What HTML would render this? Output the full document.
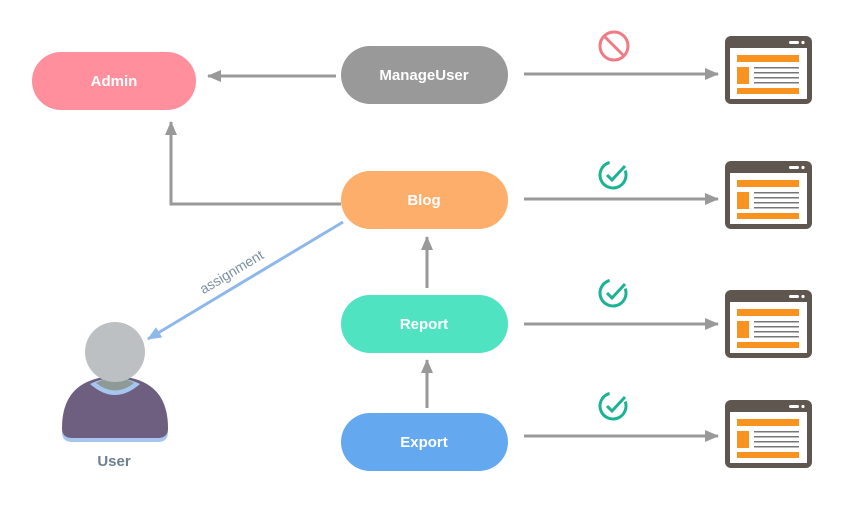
<!DOCTYPE html><html><head><style>body{margin:0;background:#fff}text{font-family:"Liberation Sans",sans-serif}</style></head><body>
<svg width="850" height="510" viewBox="0 0 850 510" xmlns="http://www.w3.org/2000/svg">
<defs>
<marker id="g" markerWidth="10" markerHeight="10" refX="9" refY="5" orient="auto" markerUnits="userSpaceOnUse" viewBox="0 0 10 10"><path d="M0,0L10,5L0,10z" fill="#999"/></marker>
<marker id="gb" markerWidth="14" markerHeight="12" refX="13" refY="6" orient="auto" markerUnits="userSpaceOnUse"><path d="M0,0L14,6L0,12z" fill="#999"/></marker>
<marker id="b" markerWidth="14" markerHeight="12" refX="13" refY="6" orient="auto" markerUnits="userSpaceOnUse"><path d="M0,0L14,6L0,12z" fill="#8fb8ea"/></marker>
<g id="ic"><rect x="0" y="0" width="87" height="68" rx="6" fill="#5f5650"/><rect x="5" y="12" width="77" height="51" fill="#fff"/><rect x="64" y="5" width="10" height="3" rx="1.5" fill="#fff"/><circle cx="78" cy="6.5" r="1.6" fill="#fff"/><rect x="12" y="19" width="62" height="7" fill="#f7931e"/><rect x="12" y="31" width="12" height="17" fill="#f7931e"/><g fill="#777"><rect x="29" y="31" width="45" height="1.5"/><rect x="29" y="36" width="45" height="1.5"/><rect x="29" y="41" width="45" height="1.5"/><rect x="29" y="46" width="45" height="1.5"/></g><rect x="12" y="52" width="62" height="6" fill="#f7931e"/></g>
<g id="ck"><circle cx="0" cy="0" r="13" fill="none" stroke="#1ab394" stroke-width="3" stroke-dasharray="62 20" transform="rotate(-20)"/><path d="M-6,0L-1,5L12,-9" fill="none" stroke="#1ab394" stroke-width="3"/></g>
</defs>
<g stroke="#999" stroke-width="3" fill="none">
<line x1="336" y1="76" x2="208" y2="76" marker-end="url(#gb)"/>
<polyline points="341,204 171,204 171,122" marker-end="url(#gb)"/>
<line x1="427" y1="288" x2="427" y2="237" marker-end="url(#gb)"/>
<line x1="427" y1="408" x2="427" y2="360" marker-end="url(#gb)"/>
<line x1="524" y1="74" x2="718" y2="74" marker-end="url(#gb)"/>
<line x1="524" y1="199" x2="718" y2="199" marker-end="url(#gb)"/>
<line x1="524" y1="324" x2="718" y2="324" marker-end="url(#gb)"/>
<line x1="524" y1="436" x2="718" y2="436" marker-end="url(#gb)"/>
</g>
<line x1="343" y1="222" x2="148" y2="339" stroke="#8fb8ea" stroke-width="3" marker-end="url(#b)"/>
<text x="0" y="0" transform="translate(234,276) rotate(-31)" text-anchor="middle" font-size="14" fill="#7a8fa0">assignment</text>
<rect x="32" y="52" width="164" height="58" rx="29" fill="#ff8f9c"/><text x="114" y="86" text-anchor="middle" font-size="15" font-weight="bold" fill="#fff">Admin</text>
<rect x="341" y="46" width="167" height="58" rx="29" fill="#999"/><text x="424" y="80" text-anchor="middle" font-size="15" font-weight="bold" fill="#fff">ManageUser</text>
<rect x="341" y="171" width="167" height="58" rx="29" fill="#fdae6b"/><text x="424" y="205" text-anchor="middle" font-size="15" font-weight="bold" fill="#fff">Blog</text>
<rect x="341" y="295" width="167" height="58" rx="29" fill="#50e3c2"/><text x="424" y="329" text-anchor="middle" font-size="15" font-weight="bold" fill="#fff">Report</text>
<rect x="341" y="413" width="167" height="58" rx="29" fill="#64a8f0"/><text x="424" y="447" text-anchor="middle" font-size="15" font-weight="bold" fill="#fff">Export</text>
<use href="#ic" x="725" y="36"/><use href="#ic" x="725" y="161"/><use href="#ic" x="725" y="290"/><use href="#ic" x="725" y="400"/>
<g transform="translate(614,46)"><circle r="14" fill="none" stroke="#f07a85" stroke-width="3"/><line x1="-10" y1="-10" x2="10" y2="10" stroke="#f07a85" stroke-width="3"/></g>
<use href="#ck" x="613" y="175"/><use href="#ck" x="613" y="293"/><use href="#ck" x="613" y="406"/>
<path d="M62,432 Q62,380 115,378 Q168,380 168,432 Q168,442 158,442 L72,442 Q62,442 62,432z" fill="#a6c6f0"/>
<path d="M62,428 Q62,378 115,376 Q168,378 168,428 Q168,438 158,438 L72,438 Q62,438 62,428z" fill="#6e5f80"/>
<path d="M90,384 Q115,406 140,384 Q128,378 115,378 Q102,378 90,384z" fill="#a6c6f0"/>
<path d="M96,383 Q115,398 134,383 Q125,378 115,378 Q105,378 96,383z" fill="#8e9a96"/>
<circle cx="115" cy="352" r="30" fill="#bdc0c3"/>
<text x="114" y="466" text-anchor="middle" font-size="15" font-weight="bold" fill="#6e8090">User</text>
</svg></body></html>
